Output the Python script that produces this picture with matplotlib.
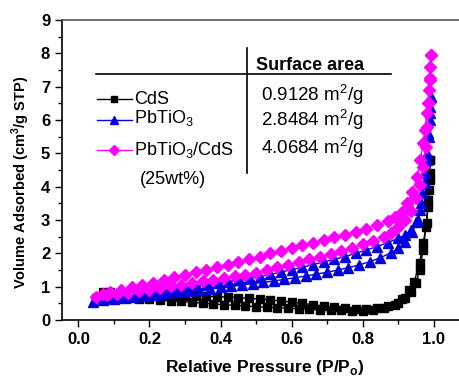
import matplotlib
matplotlib.use('Agg')
import matplotlib.pyplot as plt
from matplotlib.lines import Line2D

plt.rcParams['font.family'] = ['Liberation Sans', 'DejaVu Sans']
plt.rcParams['mathtext.fontset'] = 'custom'
plt.rcParams['mathtext.rm'] = 'Liberation Sans'
plt.rcParams['mathtext.bf'] = 'Liberation Sans:bold'

# CdS - adsorcion / desorcion
cds_ads_x = [0.05, 0.08, 0.11, 0.14, 0.17, 0.20, 0.23, 0.26, 0.29, 0.32, 0.35, 0.38, 0.41,
             0.44, 0.47, 0.50, 0.53, 0.56, 0.59, 0.62, 0.65, 0.68, 0.71, 0.74, 0.77, 0.80,
             0.83, 0.86, 0.89, 0.91, 0.93, 0.945, 0.96, 0.97, 0.98, 0.985, 0.988, 0.99]
cds_ads_y = [0.65, 0.66, 0.66, 0.65, 0.64, 0.62, 0.60, 0.58, 0.56, 0.53, 0.50, 0.48, 0.46,
             0.44, 0.42, 0.40, 0.38, 0.37, 0.35, 0.34, 0.32, 0.31, 0.30, 0.29, 0.28, 0.27,
             0.30, 0.36, 0.46, 0.62, 0.90, 1.15, 1.70, 2.30, 2.90, 3.60, 4.20, 4.80]
cds_des_x = [0.99, 0.988, 0.986, 0.983, 0.978, 0.97, 0.96, 0.95, 0.935, 0.92, 0.90, 0.87,
             0.84, 0.81, 0.78, 0.75, 0.72, 0.69, 0.66, 0.63, 0.60, 0.57, 0.54, 0.51, 0.48,
             0.45, 0.42, 0.39, 0.36, 0.33, 0.30, 0.27, 0.24, 0.21, 0.18, 0.15, 0.12, 0.09, 0.07]
cds_des_y = [4.80, 4.40, 3.90, 3.40, 2.80, 2.10, 1.50, 1.10, 0.85, 0.65, 0.52, 0.42,
             0.36, 0.33, 0.34, 0.36, 0.39, 0.42, 0.46, 0.50, 0.54, 0.57, 0.60, 0.63, 0.65,
             0.67, 0.69, 0.70, 0.71, 0.72, 0.72, 0.72, 0.73, 0.74, 0.76, 0.78, 0.80, 0.83, 0.85]

# PbTiO3
pto_ads_x = [0.04, 0.07, 0.10, 0.13, 0.16, 0.19, 0.22, 0.25, 0.28, 0.31, 0.34, 0.37, 0.40,
             0.43, 0.46, 0.49, 0.52, 0.55, 0.58, 0.61, 0.64, 0.67, 0.70, 0.73, 0.76, 0.79,
             0.82, 0.85, 0.88, 0.90, 0.92, 0.94, 0.955, 0.965, 0.975, 0.982, 0.986, 0.99, 0.992]
pto_ads_y = [0.55, 0.60, 0.64, 0.67, 0.70, 0.73, 0.76, 0.80, 0.83, 0.87, 0.90, 0.94, 0.98,
             1.01, 1.05, 1.09, 1.13, 1.17, 1.22, 1.27, 1.32, 1.38, 1.43, 1.50, 1.57, 1.65,
             1.75, 1.87, 2.02, 2.15, 2.35, 2.65, 3.00, 3.50, 4.10, 4.80, 5.50, 6.20, 6.70]
pto_des_x = [0.992, 0.99, 0.988, 0.985, 0.98, 0.975, 0.968, 0.96, 0.95, 0.935, 0.92, 0.90,
             0.87, 0.84, 0.81, 0.78, 0.75, 0.72, 0.69, 0.66, 0.63, 0.60, 0.57, 0.54, 0.51,
             0.48, 0.45, 0.42, 0.39, 0.36, 0.33, 0.30, 0.27, 0.24, 0.21, 0.18, 0.15, 0.12, 0.09, 0.07]
pto_des_y = [6.70, 6.40, 6.00, 5.60, 5.00, 4.40, 3.80, 3.30, 2.95, 2.70, 2.55, 2.45,
             2.32, 2.20, 2.10, 2.00, 1.90, 1.82, 1.74, 1.66, 1.58, 1.51, 1.44, 1.37, 1.30,
             1.25, 1.20, 1.15, 1.10, 1.05, 1.01, 0.97, 0.92, 0.88, 0.84, 0.80, 0.77, 0.73, 0.70, 0.67]

# PbTiO3/CdS (25wt%)
comp_ads_x = [0.05, 0.08, 0.11, 0.14, 0.17, 0.20, 0.23, 0.26, 0.29, 0.32, 0.35, 0.38, 0.41,
              0.44, 0.47, 0.50, 0.53, 0.56, 0.59, 0.62, 0.65, 0.68, 0.71, 0.74, 0.77, 0.80,
              0.83, 0.86, 0.88, 0.90, 0.92, 0.935, 0.95, 0.96, 0.97, 0.977, 0.982, 0.986, 0.989, 0.991]
comp_ads_y = [0.70, 0.74, 0.78, 0.82, 0.86, 0.91, 0.96, 1.01, 1.06, 1.11, 1.16, 1.21, 1.26,
              1.31, 1.36, 1.42, 1.50, 1.58, 1.66, 1.74, 1.82, 1.90, 1.98, 2.06, 2.16, 2.27,
              2.38, 2.50, 2.62, 2.78, 3.00, 3.28, 3.65, 4.05, 4.60, 5.20, 5.80, 6.50, 7.20, 7.95]
comp_des_x = [0.991, 0.99, 0.988, 0.986, 0.983, 0.98, 0.975, 0.97, 0.962, 0.953, 0.94, 0.925,
              0.91, 0.89, 0.87, 0.84, 0.81, 0.78, 0.75, 0.72, 0.69, 0.66, 0.63, 0.60, 0.57,
              0.54, 0.51, 0.48, 0.45, 0.42, 0.39, 0.36, 0.33, 0.30, 0.27, 0.24, 0.21, 0.18,
              0.15, 0.12, 0.09, 0.07]
comp_des_y = [7.95, 7.60, 7.25, 6.90, 6.50, 6.20, 5.70, 5.30, 4.80, 4.30, 3.85, 3.50,
              3.25, 3.08, 2.96, 2.85, 2.74, 2.65, 2.56, 2.48, 2.40, 2.32, 2.24, 2.16, 2.08,
              2.00, 1.90, 1.82, 1.74, 1.66, 1.58, 1.50, 1.43, 1.36, 1.28, 1.20, 1.12, 1.05,
              0.98, 0.91, 0.84, 0.79]

nombres = ['CdS', 'PbTiO$_3$', 'PbTiO$_3$/CdS']
areas = ['0.9128 m$^2$/g', '2.8484 m$^2$/g', '4.0684 m$^2$/g']

fig = plt.figure(figsize=(4.59, 3.77), dpi=100)
ax = fig.add_axes([62 / 459, 57 / 377, 397 / 459, 300 / 377])

estilos = [('black', 's', 6), ('#0000e0', '^', 7), ('#ff00ff', 'D', 6.5)]
series = [(cds_ads_x, cds_ads_y, cds_des_x, cds_des_y),
          (pto_ads_x, pto_ads_y, pto_des_x, pto_des_y),
          (comp_ads_x, comp_ads_y, comp_des_x, comp_des_y)]

for (c, m, ms), (xa, ya, xd, yd) in zip(estilos, series):
    ax.plot(xa, ya, color=c, marker=m, ms=ms, lw=1, mec=c)
    ax.plot(xd, yd, color=c, marker=m, ms=ms, lw=1, mec=c)

ax.set_xlim(-0.046, 1.071)
ax.set_ylim(0, 9)
ax.set_xticks([0.0, 0.2, 0.4, 0.6, 0.8, 1.0])
ax.set_xticks([0.1, 0.3, 0.5, 0.7, 0.9], minor=True)
ax.set_yticks(range(0, 10))
ax.set_yticks([i + 0.5 for i in range(9)], minor=True)
ax.tick_params(which='major', direction='out', length=5, width=1, labelsize=12)
ax.tick_params(which='minor', direction='out', length=3, width=1)
ax.set_xticklabels(['0.0', '0.2', '0.4', '0.6', '0.8', '1.0'])
for lab in ax.get_xticklabels() + ax.get_yticklabels():
    lab.set_fontweight('bold')
ax.spines['right'].set_visible(False)
for s in ['left', 'bottom', 'top']:
    ax.spines[s].set_linewidth(1.2)
ax.spines['top'].set_color('#555555')

ax.set_ylabel(r'Volume Adsorbed (cm$^\mathbf{3}$/g STP)', fontsize=10.5, fontweight='bold')
ax.yaxis.set_label_coords(-0.075, 0.46)
ax.set_xlabel(r'Relative Pressure (P/P$_\mathbf{o}$)', fontsize=12.5, fontweight='bold')
ax.xaxis.set_label_coords(0.511, -0.128)

# Tabla/leyenda
def fx(px):
    return (px - 62) / 397

def fy(py):
    return (320 - py) / 300

tr = ax.transAxes
ax.add_line(Line2D([fx(96), fx(391)], [fy(74), fy(74)], transform=tr, color='black', lw=1.2))
ax.add_line(Line2D([fx(247), fx(247)], [fy(48), fy(173)], transform=tr, color='black', lw=1.2))
ax.text(fx(256), fy(65), 'Surface area', transform=tr, fontsize=13, fontweight='bold',
        va='center', ha='left')

filas_y = [97, 116, 147.5]
lineas_y = [99, 120, 150]
valores_y = [92, 117, 145]
for (c, m, ms), nom, area, ty, ly, vy in zip(estilos, nombres, areas, filas_y, lineas_y, valores_y):
    ax.add_line(Line2D([fx(97), fx(132)], [fy(ly), fy(ly)], transform=tr, color=c, lw=1))
    ax.add_line(Line2D([fx(113.5)], [fy(ly)], transform=tr, color=c, marker=m, ms=ms - 1, mec=c))
    ax.text(fx(134), fy(ty), nom, transform=tr, fontsize=13, va='center_baseline', ha='left')
    ax.text(fx(261), fy(vy), area, transform=tr, fontsize=13.5, va='center_baseline', ha='left')
ax.text(fx(140), fy(177), '(25wt%)', transform=tr, fontsize=13, va='center_baseline', ha='left')

plt.savefig('out.png', dpi=100)
